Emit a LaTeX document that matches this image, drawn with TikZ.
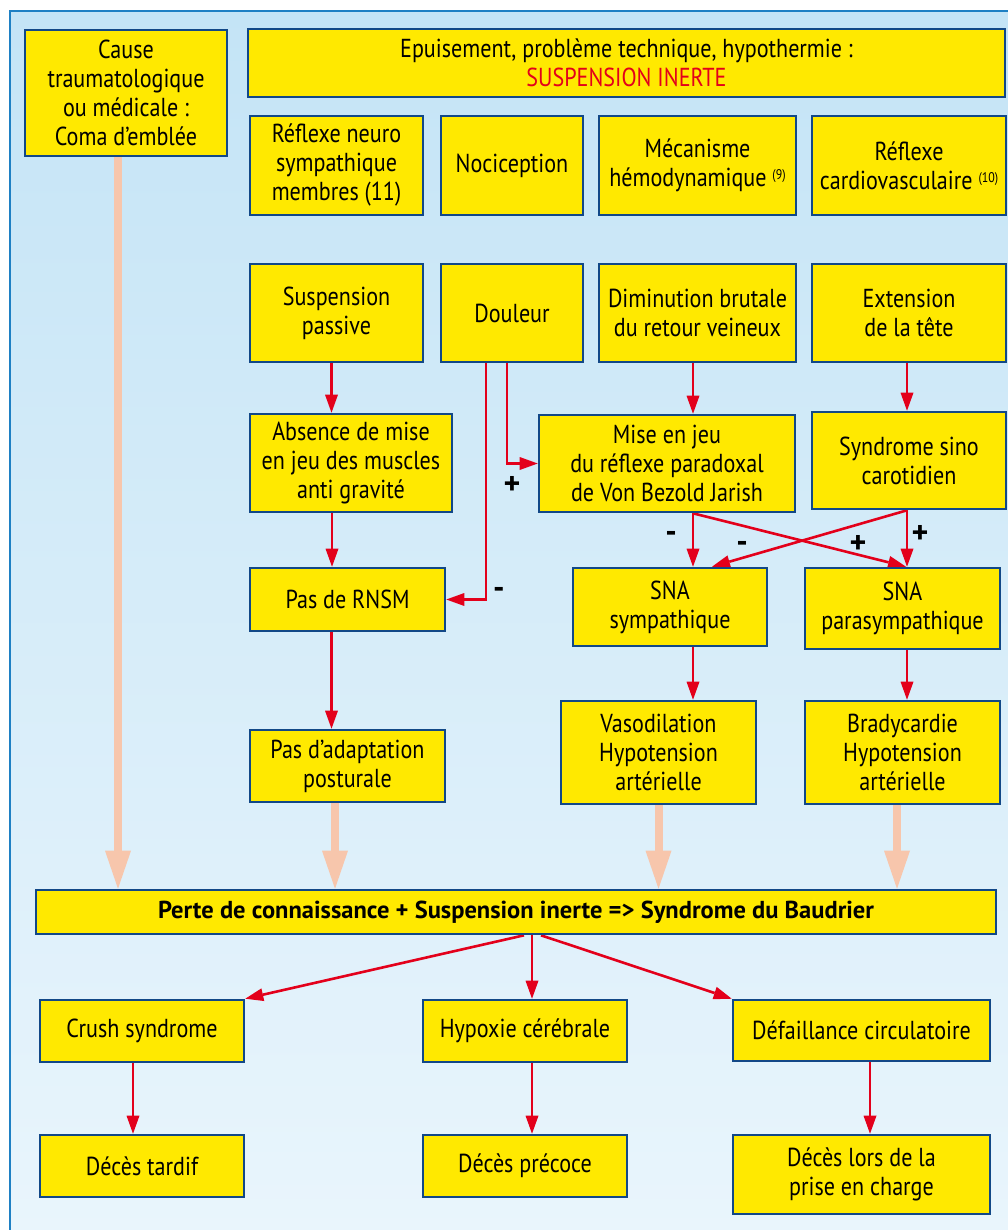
\documentclass[tikz,border=0pt]{standalone}
\usepackage{fontspec}
\setmainfont{PT Sans}[FakeStretch=0.85]
\newfontfamily\widesans{PT Sans}
\usetikzlibrary{arrows.meta,calc}
\definecolor{boxyellow}{RGB}{255,233,0}
\definecolor{boxblue}{RGB}{18,72,135}
\definecolor{arrred}{RGB}{227,0,27}
\definecolor{pinkarr}{RGB}{247,198,172}
\definecolor{bgtop}{RGB}{196,228,246}
\definecolor{bgbot}{RGB}{233,245,252}
\definecolor{framecol}{RGB}{30,128,196}
\pgfdeclarelayer{bg}
\pgfdeclarelayer{conn}
\pgfsetlayers{bg,conn,main}
\newcommand\supref[1]{{\fontsize{14}{14}\selectfont\raisebox{7pt}{#1}}}
\begin{document}
\begin{tikzpicture}[x=1pt,y=-1pt,
  box/.style={draw=boxblue, line width=2.6pt, fill=boxyellow, inner sep=2pt, align=center, font=\fontsize{26}{29}\selectfont, text=black},
  wh/.style 2 args={minimum width=#1pt, minimum height=#2pt},
  rarr/.style={draw=arrred, line width=2.6pt, -{Triangle[width=13pt,length=18pt,line width=0pt]}},
  parr/.style={draw=pinkarr, line width=8pt, -{Triangle[width=26pt,length=38pt,line width=0pt]}},
  sign/.style={font=\widesans\fontsize{32}{32}\selectfont\bfseries, inner sep=0pt}
]
\useasboundingbox (0,0) rectangle (1008,1230);
\begin{pgfonlayer}{bg}
\fill[white] (0,0) rectangle (1008,1230);
\shade[top color=bgtop, bottom color=bgbot] (10,11) rectangle (1012,1234);
\draw[framecol, line width=2pt] (10,1234) -- (10,11) -- (1012,11);
\end{pgfonlayer}

\node[box, wh={202}{126}] (cause) at (126,93) {Cause\\traumatologique\\ou médicale :\\Coma d’emblée};
\node[box, wh={757}{68}] (epuis) at (626.5,63) {Epuisement, problème technique, hypothermie :\\\textcolor{arrred}{SUSPENSION INERTE}};

\node[box, wh={173}{99}] (rns) at (336.5,165.5) {Réflexe neuro\\sympathique\\membres (11)};
\node[box, wh={142}{99}] (noci) at (512,165.5) {Nociception};
\node[box, wh={197}{99}] (meca) at (697.5,165.5) {Mécanisme\\hémodynamique \supref{(9)}};
\node[box, wh={194}{99}] (rcard) at (909,165.5) {Réflexe\\cardiovasculaire \supref{(10)}};

\node[box, wh={173}{98}] (susp) at (336.5,313) {Suspension\\passive};
\node[box, wh={142}{98}] (doul) at (512,313) {Douleur};
\node[box, wh={197}{98}] (dimi) at (697.5,313) {Diminution brutale\\du retour veineux};
\node[box, wh={194}{98}] (ext) at (909,313) {Extension\\de la tête};

\node[box, wh={202}{98}] (abs) at (351,463) {Absence de mise\\en jeu des muscles\\anti gravité};
\node[box, wh={256}{97}] (mise) at (667,463.5) {Mise en jeu\\du réflexe paradoxal\\de Von Bezold Jarish};
\node[box, wh={194}{97}] (sino) at (909,460.5) {Syndrome sino\\carotidien};

\node[box, wh={195}{63}] (rnsm) at (347.5,599.5) {Pas de RNSM};
\node[box, wh={194}{78}] (sympa) at (670,607) {SNA\\sympathique};
\node[box, wh={195}{81}] (para) at (902.5,608.5) {SNA\\parasympathique};

\node[box, wh={195}{72}] (adapt) at (347.5,766) {Pas d’adaptation\\posturale};
\node[box, wh={195}{103}] (vaso) at (658.5,752.5) {Vasodilation\\Hypotension\\artérielle};
\node[box, wh={195}{103}] (brady) at (902.5,752.5) {Bradycardie\\Hypotension\\artérielle};

\node[box, wh={960}{44}, font=\widesans\fontsize{24.5}{29}\selectfont\bfseries] (perte) at (516,912) {Perte de connaissance + Suspension inerte => Syndrome du Baudrier};

\node[box, wh={204}{62}] (crush) at (142,1031) {Crush syndrome};
\node[box, wh={204}{62}] (hypox) at (525,1031) {Hypoxie cérébrale};
\node[box, wh={257}{61}] (defa) at (861.5,1030.5) {Défaillance circulatoire};
\node[box, wh={204}{62}] (dtard) at (142,1166) {Décès tardif};
\node[box, wh={204}{62}] (dprec) at (525,1166) {Décès précoce};
\node[box, wh={257}{79}] (dlors) at (861.5,1174.5) {Décès lors de la\\prise en charge};

\node[sign] (s1) at (512,485) {+};
\node[sign] (s2) at (499,593) {-};
\node[sign] (s3) at (671,537) {-};
\node[sign] (s4) at (742,547) {-};
\node[sign] (s5) at (858,544) {+};
\node[sign] (s6) at (920,534) {+};

\begin{pgfonlayer}{conn}
\draw[parr] ([xshift=-8pt]cause.south) -- ([xshift=-8pt]cause.south |- perte.north);
\draw[parr] ([xshift=-12.5pt]adapt.south) -- ([xshift=-12.5pt]adapt.south |- perte.north);
\draw[parr] (vaso.south) -- (vaso.south |- perte.north);
\draw[parr] ([xshift=-5.5pt]brady.south) -- ([xshift=-5.5pt]brady.south |- perte.north);

\draw[rarr] ([xshift=-5pt]susp.south) -- ([xshift=-5pt]susp.south |- abs.north);
\draw[rarr] ([xshift=-19pt]abs.south) -- ([xshift=-19pt]abs.south |- rnsm.north);
\draw[rarr] ([xshift=-16pt]rnsm.south) -- ([xshift=-16pt]rnsm.south |- adapt.north);
\draw[rarr] ([xshift=-26pt]doul.south) |- (rnsm.east);
\draw[rarr] ([xshift=-5pt]doul.south) |- (mise.west);
\draw[rarr] ([xshift=-4.5pt]dimi.south) -- ([xshift=-4.5pt]dimi.south |- mise.north);
\coordinate (mb) at ([xshift=26pt]mise.south);
\draw[rarr] (mb) -- (mb |- sympa.north);
\draw[rarr] (mb) -- ([xshift=3.5pt]para.north);
\draw[rarr] ([xshift=-2pt]ext.south) -- ([xshift=-2pt]ext.south |- sino.north);
\draw[rarr] ([xshift=-2pt]sino.south) -- ([xshift=-2pt]sino.south |- para.north);
\draw[rarr] ([xshift=-2pt]sino.south) -- ([xshift=42pt]sympa.north);
\draw[rarr] ([xshift=23pt]sympa.south) -- ([xshift=23pt]sympa.south |- vaso.north);
\draw[rarr] ([xshift=4.5pt]para.south) -- ([xshift=4.5pt]para.south |- brady.north);

\draw[rarr] ([xshift=8pt]perte.south) -- (crush.north east);
\draw[rarr] ([xshift=16pt]perte.south) -- ([xshift=16pt]perte.south |- hypox.north);
\draw[rarr] ([xshift=25pt]perte.south) -- (defa.north west);
\draw[rarr] ([xshift=-9pt]crush.south) -- ([xshift=-9pt]crush.south |- dtard.north);
\draw[rarr] ([xshift=7pt]hypox.south) -- ([xshift=7pt]hypox.south |- dprec.north);
\draw[rarr] ([xshift=8.5pt]defa.south) -- ([xshift=8.5pt]defa.south |- dlors.north);
\end{pgfonlayer}
\end{tikzpicture}
\end{document}
